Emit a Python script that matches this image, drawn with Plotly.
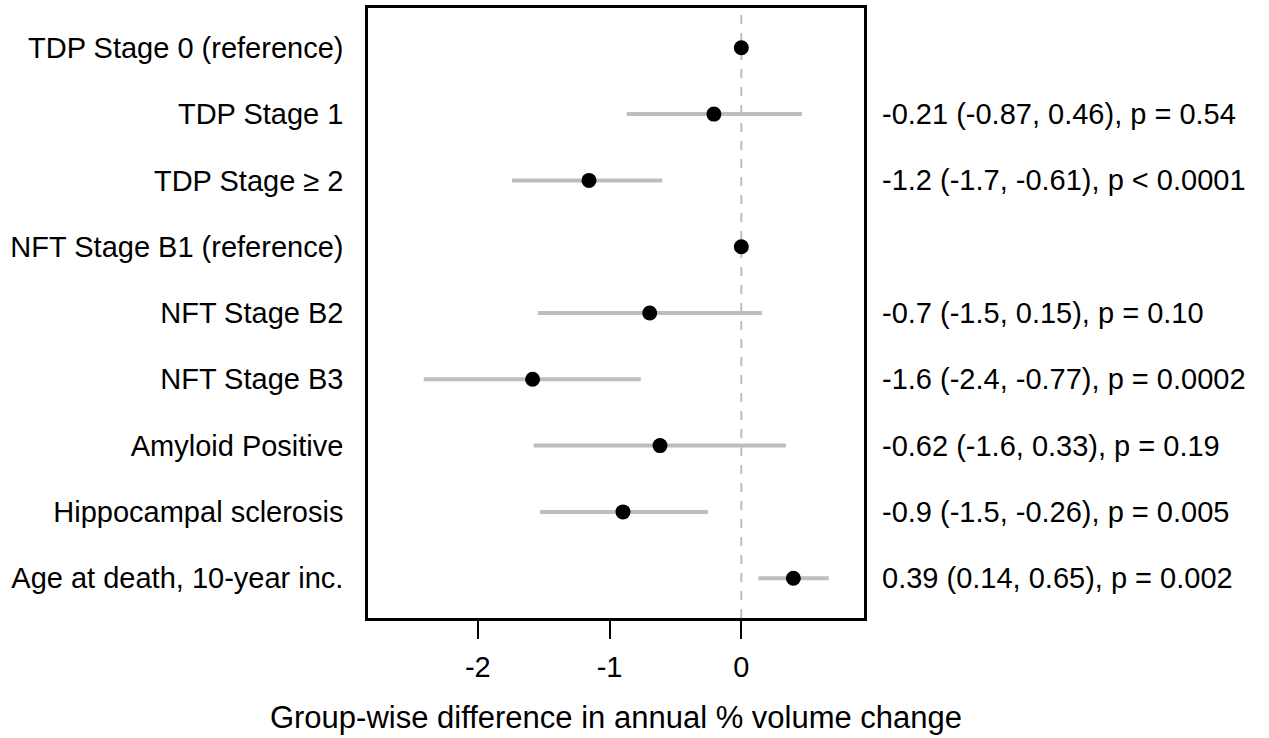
import plotly.graph_objects as go

labels = ["TDP Stage 0 (reference)", "TDP Stage 1", "TDP Stage \u2265 2",
          "NFT Stage B1 (reference)", "NFT Stage B2", "NFT Stage B3",
          "Amyloid Positive", "Hippocampal sclerosis", "Age at death, 10-year inc."]
estimate = [0, -0.208, -1.156, 0, -0.695, -1.584, -0.617, -0.898, 0.395]
ci_low = [0, -0.87, -1.74, 0, -1.545, -2.41, -1.576, -1.527, 0.129]
ci_high = [0, 0.46, -0.60, 0, 0.157, -0.763, 0.339, -0.253, 0.663]
result_text = ["", "-0.21 (-0.87, 0.46), p = 0.54", "-1.2 (-1.7, -0.61), p < 0.0001",
               "", "-0.7 (-1.5, 0.15), p = 0.10", "-1.6 (-2.4, -0.77), p = 0.0002",
               "-0.62 (-1.6, 0.33), p = 0.19", "-0.9 (-1.5, -0.26), p = 0.005",
               "0.39 (0.14, 0.65), p = 0.002"]
x_ticks = [-2, -1, 0]

FONT = "Liberation Sans, Arial, sans-serif"
GRAY = "#bebebe"
FS = 29
rows = list(range(len(labels)))

fig = go.Figure()
fig.add_shape(type="line", xref="x", yref="paper", x0=0, x1=0, y0=0, y1=1,
              line=dict(color=GRAY, width=2, dash="dash"), layer="below")
fig.add_trace(go.Scatter(
    x=estimate, y=rows, mode="markers",
    marker=dict(color="black", size=15),
    error_x=dict(type="data", symmetric=False,
                 array=[h - e for h, e in zip(ci_high, estimate)],
                 arrayminus=[e - l for e, l in zip(estimate, ci_low)],
                 color=GRAY, thickness=4, width=0),
    showlegend=False, hoverinfo="skip"))

for r, t in zip(rows, result_text):
    if t:
        fig.add_annotation(x=1, xref="paper", y=r, yref="y", text=t, showarrow=False,
                           xanchor="left", yanchor="middle", xshift=16,
                           font=dict(family=FONT, size=FS, color="black"))

fig.update_layout(
    width=1269, height=738,
    margin=dict(l=368, r=405, t=5, b=120),
    paper_bgcolor="white", plot_bgcolor="white",
    font=dict(family=FONT, size=FS, color="black"),
    xaxis=dict(range=[-2.833, 0.931], tickvals=x_ticks, ticktext=[str(v) for v in x_ticks],
               ticks="outside", ticklen=18, tickwidth=2, tickcolor="black",
               ticklabelstandoff=3,
               showgrid=False, zeroline=False, showline=True, mirror=True,
               linecolor="black", linewidth=2.5,
               title=dict(text="Group-wise difference in annual % volume change",
                          font=dict(size=31), standoff=25),
               tickfont=dict(size=FS)),
    yaxis=dict(range=[8.6, -0.6], tickvals=rows, ticktext=labels, ticks="",
               showgrid=False, zeroline=False, showline=True, mirror=True,
               linecolor="black", linewidth=2.5, ticklabelstandoff=16,
               tickfont=dict(size=FS)),
)
fig.write_html("out.html", config={"displayModeBar": False},
               post_script="document.body.style.margin='0';")
